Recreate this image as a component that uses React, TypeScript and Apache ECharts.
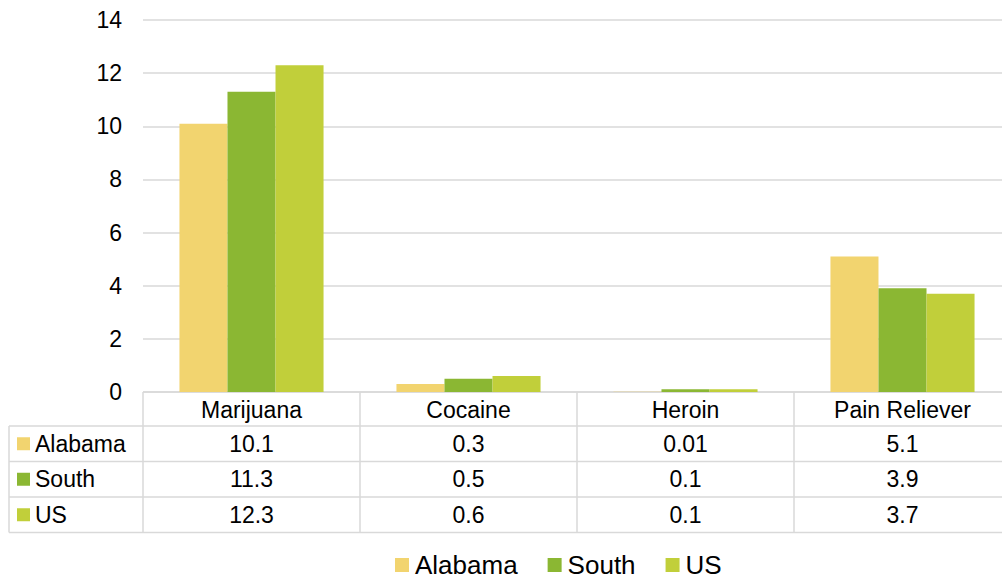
import React, { useEffect, useRef } from "react";
import * as echarts from "echarts";

const categories = ["Marijuana", "Cocaine", "Heroin", "Pain Reliever"];
const seriesNames = ["Alabama", "South", "US"];
const alabama = [10.1, 0.3, 0.01, 5.1];
const south = [11.3, 0.5, 0.1, 3.9];
const us = [12.3, 0.6, 0.1, 3.7];
const colors = ["#F2D46F", "#8BB733", "#C1CF3A"];

const FONT = "Liberation Sans, Arial, sans-serif";
const CHART_W = 1011;

export default function App() {
  const ref = useRef<HTMLDivElement>(null);
  useEffect(() => {
    if (!ref.current) return;
    const chart = echarts.init(ref.current, null, { renderer: "svg" });
    const values = [alabama, south, us];
    const gridLeft = 143;
    const gridTop = 20;
    const gridH = 372;
    const colW = 217;
    const gridRight = CHART_W - (gridLeft + colW * categories.length);
    const tableTop = gridTop + gridH;
    const headerH = 34;
    const rowH = 35.5;
    const tableLeft = 9;
    const lineColor = "#D9D9D9";
    const tableBottom = tableTop + headerH + rowH * 3;

    const graphics: any[] = [];
    for (let r = 0; r <= 3; r++) {
      const y = tableTop + headerH + r * rowH;
      graphics.push({
        type: "line",
        shape: { x1: tableLeft, y1: y, x2: CHART_W, y2: y },
        style: { stroke: lineColor, lineWidth: 1.5 },
        silent: true,
      });
    }
    graphics.push({
      type: "line",
      shape: { x1: gridLeft, y1: tableTop, x2: CHART_W, y2: tableTop },
      style: { stroke: lineColor, lineWidth: 1.5 },
      silent: true,
    });
    graphics.push({
      type: "line",
      shape: { x1: tableLeft, y1: tableTop + headerH, x2: tableLeft, y2: tableBottom },
      style: { stroke: lineColor, lineWidth: 1.5 },
      silent: true,
    });
    for (let c = 0; c <= categories.length; c++) {
      const x = gridLeft + c * colW;
      graphics.push({
        type: "line",
        shape: { x1: x, y1: tableTop, x2: x, y2: tableBottom },
        style: { stroke: lineColor, lineWidth: 1.5 },
        silent: true,
      });
    }
    seriesNames.forEach((name, r) => {
      const cy = tableTop + headerH + r * rowH + rowH / 2;
      graphics.push({
        type: "rect",
        shape: { x: 17, y: cy - 6.5, width: 13, height: 13 },
        style: { fill: colors[r] },
        silent: true,
      });
      graphics.push({
        type: "text",
        x: 35,
        y: cy,
        style: {
          text: name,
          font: `23px ${FONT}`,
          fill: "#000",
          verticalAlign: "middle",
          align: "left",
        },
        silent: true,
      });
      values[r].forEach((v, c) => {
        graphics.push({
          type: "text",
          x: gridLeft + (c + 0.5) * colW,
          y: cy,
          style: {
            text: String(v),
            font: `23px ${FONT}`,
            fill: "#000",
            align: "center",
            verticalAlign: "middle",
          },
          silent: true,
        });
      });
    });

    chart.setOption({
      animation: false,
      grid: { left: gridLeft, top: gridTop, height: gridH, right: gridRight, containLabel: false },
      legend: {
        data: seriesNames,
        bottom: -3,
        left: 390,
        itemWidth: 14,
        itemHeight: 14,
        itemGap: 30,
        icon: "rect",
        textStyle: { fontFamily: FONT, fontSize: 26, color: "#000", padding: [0, 0, 0, 1] },
      },
      xAxis: {
        type: "category",
        data: categories,
        axisLine: { show: false },
        axisTick: { show: false },
        axisLabel: { fontFamily: FONT, fontSize: 23, color: "#000", margin: 6 },
      },
      yAxis: {
        type: "value",
        min: 0,
        max: 14,
        interval: 2,
        axisLine: { show: false },
        axisTick: { show: false },
        axisLabel: { fontFamily: FONT, fontSize: 23, color: "#000", margin: 21 },
        splitLine: { lineStyle: { color: lineColor, width: 1.5 } },
      },
      series: seriesNames.map((name, i) => ({
        name,
        type: "bar",
        data: values[i],
        barGap: "0%",
        barCategoryGap: "33.6%",
        itemStyle: { color: colors[i] },
      })),
      graphic: graphics,
    });
    return () => chart.dispose();
  }, []);
  return (
    <div
      ref={ref}
      style={{ position: "fixed", left: 0, top: 0, width: CHART_W, height: 580, background: "#fff" }}
    />
  );
}
